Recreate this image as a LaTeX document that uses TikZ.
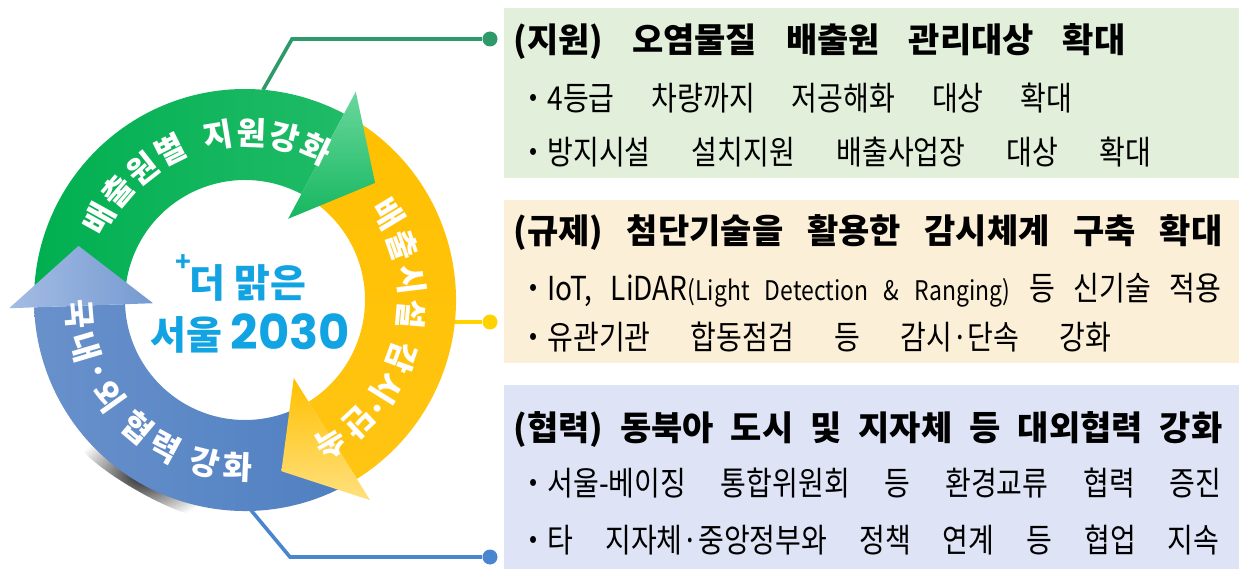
\documentclass[tikz,border=0pt]{standalone}
\usepackage{fontspec}
\setmainfont{Noto Sans CJK KR}
\newfontfamily\narrowkr[FakeStretch=0.85]{Noto Sans CJK KR}
\newfontfamily\numfont{Poppins}

\definecolor{gDark}{HTML}{00AF50}
\definecolor{gLight}{HTML}{6AD79C}
\definecolor{yDark}{HTML}{FFC000}
\definecolor{yLight}{HTML}{FFE07F}
\definecolor{bDark}{HTML}{4F7FC1}
\definecolor{bLight}{HTML}{A4BCE4}
\definecolor{lineG}{HTML}{2E9A6C}
\definecolor{lineY}{HTML}{FFD200}
\definecolor{lineB}{HTML}{4A85CF}
\definecolor{boxG}{HTML}{E2EFDA}
\definecolor{boxY}{HTML}{FCEFD7}
\definecolor{boxB}{HTML}{DEE4F6}
\definecolor{seoulblue}{HTML}{12A3E3}

\tikzset{
  headline/.style={anchor=west, inner sep=0pt, font=\bfseries\fontsize{17}{17}\selectfont, text height=15pt, text depth=2pt},
  itemline/.style={anchor=west, inner sep=0pt, font=\narrowkr\fontsize{16.5}{17}\selectfont, text height=14pt, text depth=1.4pt},
  panel/.style={anchor=south west, inner sep=0pt, minimum width=367.5pt},
  enddot/.style={circle, fill, inner sep=0pt, minimum size=7.5pt},
  leader/.style={line width=1.8pt},
  arctxt/.style={white, inner sep=0pt, font=\bfseries\fontsize{16}{16}\selectfont},
  seoul/.style={seoulblue, inner sep=0pt, font=\bfseries\fontsize{19.5}{19.5}\selectfont},
}

\begin{document}
\begin{tikzpicture}[x=0.5pt,y=0.5pt]
  \useasboundingbox (0,0) rectangle (1239,569);

  % boxes on the right
  \node[panel, fill=boxG, minimum height=85pt] (boxA) at (504,391) {};
  \node[panel, fill=boxY, minimum height=81.5pt] (boxB) at (504,206) {};
  \node[panel, fill=boxB, minimum height=92pt] (boxC) at (504,0) {};

  \node[headline] (titleA) at (513,529) {\makebox[306pt][s]{(지원) 오염물질 배출원 관리대상 확대}};
  \node[itemline] (itemA1) at (519,471) {\makebox[276.5pt][s]{・4등급 차량까지 저공해화 대상 확대}};
  \node[itemline] (itemA2) at (519,417) {\makebox[316pt][s]{・방지시설 설치지원 배출사업장 대상 확대}};

  \node[headline] (titleB) at (513,339) {\makebox[354.5pt][s]{(규제) 첨단기술을 활용한 감시체계 구축 확대}};
  \node[itemline] (itemB1) at (519,281) {\makebox[351pt][s]{・IoT, LiDAR{\fontsize{13.5}{14}\selectfont(Light Detection \& Ranging)} 등 신기술 적용}};
  \node[itemline] (itemB2) at (519,232) {\makebox[296pt][s]{・유관기관 합동점검 등 감시·단속 강화}};

  \node[headline] (titleC) at (513,142) {\makebox[354.5pt][s]{(협력) 동북아 도시 및 지자체 등 대외협력 강화}};
  \node[itemline] (itemC1) at (519,86) {\makebox[351pt][s]{・서울-베이징 통합위원회 등 환경교류 협력 증진}};
  \node[itemline] (itemC2) at (519,29) {\makebox[350pt][s]{・타 지자체·중앙정부와 정책 연계 등 협업 지속}};

  % leaders
  \coordinate (gFrom) at (263,479);
  \coordinate (gBend) at (292,530);
  \node[enddot, lineG] (gDot) at (490,530) {};
  \coordinate (yFrom) at (440,247);
  \node[enddot, lineY] (yDot) at (490,247) {};
  \coordinate (bFrom) at (250,60);
  \coordinate (bBend) at (290,12);
  \node[enddot, lineB] (bDot) at (490,12) {};
  \draw[leader, lineG] (gFrom) -- (gBend) -- (gDot);
  \draw[leader, lineY] (yFrom) -- (yDot);
  \draw[leader, lineB] (bFrom) -- (bBend) -- (bDot);

  % cycle
  \begin{scope}[shift={(245,269)}]
    \begin{scope}[shift={(240:203)}, rotate=150]
      \shade[inner color=black!85, outer color=white] (0,0) ellipse [x radius=78, y radius=16];
    \end{scope}
    \shade[left color=gDark, right color=gDark!70!gLight] (181:211) arc[start angle=181, end angle=62, radius=211] -- (62:120) arc[start angle=62, end angle=181, radius=120] -- cycle;
    \shade[top color=yDark, bottom color=yDark!85!yLight] (61:211) arc[start angle=61, end angle=-58, radius=211] -- (-58:120) arc[start angle=-58, end angle=61, radius=120] -- cycle;
    \shade[left color=bDark!70!bLight, right color=bDark] (-59:211) arc[start angle=-59, end angle=-178, radius=211] -- (-178:120) arc[start angle=-178, end angle=-59, radius=120] -- cycle;
    \shade[top color=gLight, bottom color=gDark!80!gLight] (62:92) -- (62:236) -- (42:175) -- cycle;
    \shade[top color=yDark, bottom color=yLight] (-58:92) -- (-58:236) -- (-78:175) -- cycle;
    \shade[left color=bLight, right color=bDark!55!bLight] (182:92) -- (182:236) -- (162:175) -- cycle;

    \foreach \ang/\ch [count=\i] in {151/배,139.5/출,128/원,116.5/별,99.25/지,87.75/원,76.25/강,64.75/화}
      \node[arctxt, rotate=\ang-90] (gt\i) at (\ang:167) {\ch};
    \foreach \ang/\ch [count=\i] in {31/배,19/출,7/시,-5/설,-20/감,-32/시,-39.5/·,-47/단,-59/속}
      \node[arctxt, rotate=\ang-90] (yt\i) at (\ang:167) {\ch};
    \foreach \ang/\ch [count=\i] in {185/국,196.5/내,206/·,215.5/외,230/협,241.5/력,256/강,267.5/화}
      \node[arctxt, rotate=\ang+90] (bt\i) at (\ang:167) {\ch};
  \end{scope}

  % centre title
  \node[seoul, font=\bfseries\fontsize{13}{13}\selectfont] (plus) at (183,306) {+};
  \node[seoul] (clear) at (248,286) {더 맑은};
  \node[seoul] (city) at (250,236) {서울 {\numfont\bfseries\fontsize{24}{24}\selectfont 2030}};
\end{tikzpicture}
\end{document}
